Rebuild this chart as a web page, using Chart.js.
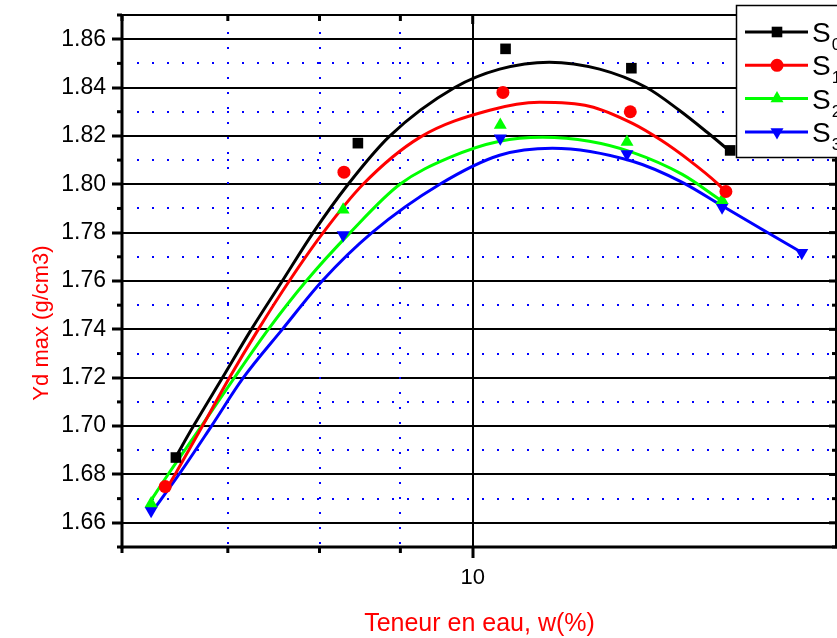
<!DOCTYPE html>
<html lang="fr">
<head>
<meta charset="utf-8">
<title>Yd max - Teneur en eau</title>
<script src="https://cdn.jsdelivr.net/npm/chart.js@4.4.1/dist/chart.umd.min.js"></script>
<style>
  html, body { margin: 0; padding: 0; background: #fff; }
  #graf { display: block; }
</style>
</head>
<body>
<canvas id="graf" width="837" height="638"></canvas>
<script>
// --- DONNÉES ---

// points mesurés : teneur en eau w(%) / Yd max (g/cm3)
const wS0 = [6.49, 8.46, 10.49, 12.60, 14.55];
const ydS0 = [1.687, 1.817, 1.856, 1.848, 1.814];
const wS1 = [6.39, 8.29, 10.45, 12.58, 14.46];
const ydS1 = [1.675, 1.805, 1.838, 1.830, 1.797];
const wS2 = [6.26, 8.28, 10.41, 12.52, 14.38];
const ydS2 = [1.668, 1.7895, 1.8245, 1.8175, 1.7934];
const wS3 = [6.26, 8.28, 10.41, 12.52, 14.38, 16.15];
const ydS3 = [1.665, 1.779, 1.819, 1.8125, 1.7905, 1.7717];

// courbes d'ajustement, relevées point par point sur la figure
const fitW0 = [6.486, 6.658, 6.945, 7.244, 7.578, 7.927, 8.341, 8.864, 9.742, 10.40, 11.18, 12.03, 12.88, 13.51, 14.07, 14.55];
const fitY0 = [1.687, 1.700, 1.720, 1.740, 1.760, 1.780, 1.800, 1.820, 1.840, 1.8476, 1.8505, 1.8476, 1.840, 1.8306, 1.8215, 1.8136];
const fitW1 = [6.393, 6.486, 6.746, 7.016, 7.318, 7.655, 8.043, 8.524, 9.259, 10.25, 11.02, 11.85, 12.62, 13.16, 13.71, 14.28, 14.47];
const fitY1 = [1.6733, 1.6803, 1.700, 1.720, 1.740, 1.760, 1.780, 1.800, 1.8194, 1.8306, 1.8339, 1.8323, 1.8252, 1.8182, 1.8099, 1.8004, 1.7966];
const fitW2 = [6.255, 6.421, 6.736, 7.067, 7.425, 7.847, 8.365, 8.994, 9.672, 10.40, 11.07, 11.85, 12.62, 13.57, 14.36];
const fitY2 = [1.669, 1.6803, 1.700, 1.720, 1.740, 1.760, 1.780, 1.800, 1.8111, 1.8178, 1.8194, 1.8178, 1.8132, 1.8041, 1.7933];
const fitW3 = [6.255, 6.524, 6.835, 7.160, 7.578, 8.031, 8.636, 9.532, 10.40, 11.23, 12.62, 13.57, 14.36, 15.21, 16.15];
const fitY3 = [1.6637, 1.6803, 1.700, 1.720, 1.740, 1.760, 1.780, 1.800, 1.812, 1.8149, 1.8095, 1.8008, 1.7913, 1.7817, 1.7718];

// graduations
const xMajeur = [10];
const xMineur = [6, 7, 8, 9];
const yMajeur = [1.66, 1.68, 1.70, 1.72, 1.74, 1.76, 1.78, 1.80, 1.82, 1.84, 1.86];
const yMineur = [1.65, 1.67, 1.69, 1.71, 1.73, 1.75, 1.77, 1.79, 1.81, 1.83, 1.85, 1.87];

const legendes = ["S0", "S1", "S2", "S3"];

// --- STYLE ---
const police = '"Liberation Sans", Arial, sans-serif';
const couleurs = ['#000000', '#ff0000', '#00ff00', '#0000ff'];
const marqueurs = ['rect', 'circle', 'triangle', 'triangle'];
const rotations = [0, 0, 0, 180];
const rayons = [7.5, 6.5, 7.5, 7.5];

const pts = (xs, ys) => xs.map((x, i) => ({ x: x, y: ys[i] }));

const mesures = [pts(wS0, ydS0), pts(wS1, ydS1), pts(wS2, ydS2), pts(wS3, ydS3)];
const courbes = [pts(fitW0, fitY0), pts(fitW1, fitY1), pts(fitW2, fitY2), pts(fitW3, fitY3)];

let datasets = [];
courbes.forEach((c, i) => {
  datasets.push({
    label: legendes[i] + ' fit',
    data: c,
    showLine: true,
    borderColor: couleurs[i],
    borderWidth: 3,
    pointRadius: 0,
    cubicInterpolationMode: 'monotone',
    order: 2
  });
});
mesures.forEach((m, i) => {
  datasets.push({
    label: legendes[i],
    data: m,
    showLine: false,
    pointStyle: marqueurs[i],
    rotation: rotations[i],
    pointRadius: rayons[i],
    backgroundColor: couleurs[i],
    borderColor: couleurs[i],
    borderWidth: 0,
    order: 1
  });
});

// petit dessin de marqueur pour la légende
function marqueur(ctx, style, rot, r, x, y) {
  ctx.beginPath();
  if (style === 'rect') {
    const s = r * Math.SQRT1_2;
    ctx.rect(x - s, y - s, 2 * s, 2 * s);
  } else if (style === 'circle') {
    ctx.arc(x, y, r, 0, Math.PI * 2);
  } else {
    const a0 = (rot ? Math.PI / 2 : -Math.PI / 2);
    for (let k = 0; k < 3; k++) {
      const a = a0 + k * 2 * Math.PI / 3;
      const px = x + r * Math.cos(a), py = y + r * Math.sin(a);
      k === 0 ? ctx.moveTo(px, py) : ctx.lineTo(px, py);
    }
    ctx.closePath();
  }
  ctx.fill();
}

// grille pointillée bleue, cadre, petites graduations, titres et légende
const decor = {
  id: 'decor',
  beforeDatasetsDraw(chart) {
    const { ctx, chartArea: a, scales } = chart;
    ctx.save();
    ctx.strokeStyle = '#0000ff';
    ctx.lineWidth = 2;
    ctx.setLineDash([2, 13]);
    yMineur.forEach(v => {
      if (v <= scales.y.min || v >= scales.y.max) return;
      const py = Math.round(scales.y.getPixelForValue(v));
      ctx.beginPath(); ctx.moveTo(a.left + 15, py); ctx.lineTo(a.right, py); ctx.stroke();
    });
    xMineur.forEach(v => {
      if (v <= scales.x.min) return;
      const px = Math.round(scales.x.getPixelForValue(v));
      ctx.beginPath(); ctx.moveTo(px, a.top + 17); ctx.lineTo(px, a.bottom); ctx.stroke();
    });
    ctx.restore();
  },
  afterDatasetsDraw(chart) {
    const { ctx, chartArea: a, scales } = chart;
    ctx.save();
    ctx.strokeStyle = '#000';
    // cadre
    ctx.lineWidth = 2;
    ctx.beginPath(); ctx.moveTo(a.left, a.top); ctx.lineTo(a.right, a.top); ctx.stroke();
    ctx.beginPath(); ctx.moveTo(a.right - 1, a.top); ctx.lineTo(a.right - 1, a.bottom); ctx.stroke();
    ctx.lineWidth = 3;
    ctx.beginPath(); ctx.moveTo(a.left, a.top - 1); ctx.lineTo(a.left, a.bottom + 1.5); ctx.stroke();
    ctx.beginPath(); ctx.moveTo(a.left - 1.5, a.bottom); ctx.lineTo(a.right, a.bottom); ctx.stroke();

    // graduations secondaires
    ctx.lineWidth = 3;
    yMineur.forEach(v => {
      const py = scales.y.getPixelForValue(v);
      ctx.beginPath(); ctx.moveTo(a.left - 5, py); ctx.lineTo(a.left, py); ctx.stroke();
      ctx.beginPath(); ctx.moveTo(a.right, py); ctx.lineTo(a.right - 5, py); ctx.stroke();
    });
    yMajeur.forEach(v => {
      const py = scales.y.getPixelForValue(v);
      ctx.beginPath(); ctx.moveTo(a.right, py); ctx.lineTo(a.right - 8, py); ctx.stroke();
    });
    xMineur.forEach(v => {
      const px = scales.x.getPixelForValue(v);
      ctx.beginPath(); ctx.moveTo(px, a.bottom); ctx.lineTo(px, a.bottom + 6); ctx.stroke();
      ctx.beginPath(); ctx.moveTo(px, a.top); ctx.lineTo(px, a.top + 6); ctx.stroke();
    });
    xMajeur.forEach(v => {
      const px = scales.x.getPixelForValue(v);
      ctx.beginPath(); ctx.moveTo(px, a.top); ctx.lineTo(px, a.top + 9); ctx.stroke();
    });

    // titres des axes (rouges)
    ctx.fillStyle = '#ff0000';
    ctx.font = '25px ' + police;
    ctx.textAlign = 'center';
    ctx.textBaseline = 'middle';
    ctx.fillText('Teneur en eau, w(%)', (a.left + a.right) / 2, 624);
    ctx.save();
    ctx.translate(42, 323);
    ctx.rotate(-Math.PI / 2);
    ctx.font = '22px ' + police;
    ctx.fillText('Yd max (g/cm3)', 0, 0);
    ctx.restore();
    ctx.restore();
  },
  afterDraw(chart) {
    const ctx = chart.ctx;
    ctx.save();
    // boîte de légende
    ctx.fillStyle = '#fff';
    ctx.fillRect(736, 5, 110, 153);
    ctx.strokeStyle = '#000';
    ctx.lineWidth = 1.5;
    ctx.strokeRect(736.5, 5.5, 110, 152);
    legendes.forEach((nom, i) => {
      const y = 32 + i * 33.3;
      ctx.strokeStyle = couleurs[i];
      ctx.fillStyle = couleurs[i];
      ctx.lineWidth = 3;
      ctx.beginPath(); ctx.moveTo(745, y); ctx.lineTo(808, y); ctx.stroke();
      marqueur(ctx, marqueurs[i], rotations[i], rayons[i], 777, y);
      ctx.fillStyle = '#000';
      ctx.textAlign = 'left';
      ctx.textBaseline = 'alphabetic';
      ctx.font = '28px ' + police;
      ctx.fillText(nom.charAt(0), 812, y + 10);
      const w = ctx.measureText(nom.charAt(0)).width;
      ctx.font = '17px ' + police;
      ctx.fillText(nom.slice(1), 812 + w + 1, y + 18);
    });
    ctx.restore();
  }
};

const ctx = document.getElementById('graf').getContext('2d');
window.graf = new Chart(ctx, {
  type: 'scatter',
  data: { datasets: datasets },
  options: {
    responsive: false,
    animation: false,
    events: [],
    layout: { autoPadding: false, padding: { top: 15, right: 0, bottom: 0, left: 0 } },
    plugins: { legend: { display: false }, tooltip: { enabled: false } },
    scales: {
      x: {
        type: 'logarithmic',
        min: 6,
        max: 17,
        afterBuildTicks: s => { s.ticks = xMajeur.map(v => ({ value: v })); },
        // hauteur fixe, sans marge automatique sur les côtés
        afterFit: s => { s.height = 91; s.paddingLeft = 0; s.paddingRight = 0; },
        border: { display: false },
        grid: { color: '#000', lineWidth: 2, tickLength: 11, tickWidth: 3, tickColor: '#000' },
        ticks: {
          color: '#000',
          font: { size: 22, family: police },
          padding: 7,
          autoSkip: false,
          maxRotation: 0,
          callback: v => String(v)
        }
      },
      y: {
        min: 1.65,
        max: 1.87,
        afterBuildTicks: s => { s.ticks = yMajeur.map(v => ({ value: v })); },
        afterFit: s => { s.width = 122; s.paddingTop = 0; s.paddingBottom = 0; },
        border: { display: false },
        grid: { color: '#000', lineWidth: 2, tickLength: 10, tickWidth: 3, tickColor: '#000' },
        ticks: {
          color: '#000',
          font: { size: 23, family: police },
          padding: 6,
          callback: v => v.toFixed(2)
        }
      }
    }
  },
  plugins: [decor]
});
</script>
</body>
</html>
